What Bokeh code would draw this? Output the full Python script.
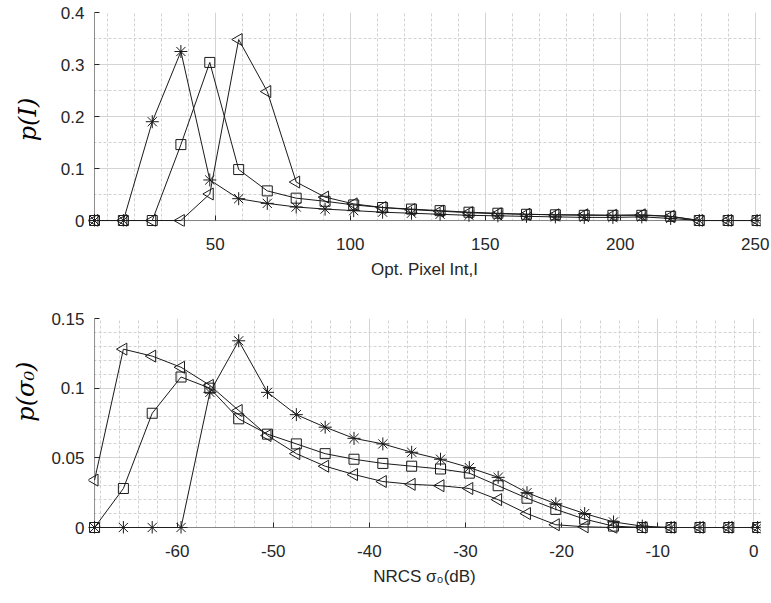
import math
from bokeh.plotting import figure
from bokeh.models import Range1d, FixedTicker, NumeralTickFormatter, BoxAnnotation
from bokeh.layouts import column
from bokeh.embed import file_html
from bokeh.resources import INLINE

# ---------------- data ----------------
# top panel: optical pixel intensity histogram (bin centres)
top_x = [5.3, 16.0, 26.7, 37.3, 48.0, 58.7, 69.3, 80.0, 90.7, 101.3, 112.0, 122.7,
         133.3, 144.0, 154.7, 165.3, 176.0, 186.7, 197.3, 208.0, 218.7, 229.3, 240.0, 250.7]
top_star = [0, 0, 0.190, 0.325, 0.078, 0.042, 0.033, 0.026, 0.022, 0.019, 0.016, 0.014,
            0.012, 0.010, 0.009, 0.008, 0.007, 0.006, 0.006, 0.007, 0.004, 0, 0, 0]
top_square = [0, 0, 0, 0.146, 0.304, 0.098, 0.057, 0.043, 0.037, 0.030, 0.025, 0.022,
              0.019, 0.016, 0.014, 0.012, 0.011, 0.010, 0.010, 0.010, 0.008, 0, 0, 0]
top_tri = [0, 0, 0, 0, 0.051, 0.348, 0.248, 0.074, 0.045, 0.032, 0.025, 0.021,
           0.018, 0.015, 0.013, 0.012, 0.011, 0.011, 0.010, 0.011, 0.008, 0, 0, 0]
top_xticks = [50, 100, 150, 200, 250]
top_xminor = [10, 20, 30, 40, 60, 70, 80, 90, 110, 120, 130, 140, 160, 170, 180, 190,
              210, 220, 230, 240]
top_yticks = [0, 0.1, 0.2, 0.3, 0.4]
top_yminor = [0.05, 0.15, 0.25, 0.35]

# bottom panel: NRCS histogram (dB)
bot_x = [-68.6, -65.6, -62.6, -59.6, -56.6, -53.6, -50.6, -47.6, -44.6, -41.6, -38.6, -35.6,
         -32.6, -29.6, -26.6, -23.6, -20.6, -17.6, -14.6, -11.6, -8.6, -5.6, -2.6, 0.4]
bot_star = [0, 0, 0, 0, 0.097, 0.134, 0.097, 0.081, 0.072, 0.064, 0.060, 0.054,
            0.049, 0.043, 0.036, 0.025, 0.017, 0.010, 0.004, 0.001, 0, 0, 0, 0]
bot_square = [0, 0.028, 0.082, 0.108, 0.100, 0.078, 0.067, 0.060, 0.053, 0.049, 0.046, 0.044,
              0.042, 0.039, 0.030, 0.021, 0.013, 0.006, 0.001, 0, 0, 0, 0, 0]
bot_tri = [0.034, 0.128, 0.123, 0.115, 0.102, 0.084, 0.066, 0.053, 0.044, 0.038, 0.033, 0.031,
           0.030, 0.028, 0.020, 0.010, 0.002, 0.0005, 0, 0, 0, 0, 0, 0]
bot_xticks = [-60, -50, -40, -30, -20, -10, 0]
bot_xminor = [-68, -66, -64, -62, -58, -56, -54, -52, -48, -46, -44, -42, -38, -36, -34, -32,
              -28, -26, -24, -22, -18, -16, -14, -12, -8, -6, -4, -2]
bot_yticks = [0, 0.05, 0.1, 0.15]
bot_yminor = [0.01, 0.02, 0.03, 0.04, 0.06, 0.07, 0.08, 0.09, 0.11, 0.12, 0.13, 0.14]

TXT = "#262626"
FONT = "Liberation Sans"
GRID = "#d4d4d4"
MINOR = "#d2d2d2"
PAD = 6  # px between frame edge and the axes (so edge markers are not clipped)


def style(p, xticks, xminor, yticks, yminor, x0, xlabel, ylabel, ylab_standoff, xlab_standoff):
    p.outline_line_color = None
    p.background_fill_color = "white"
    for ax in (p.xaxis[0], p.yaxis[0]):
        ax.axis_line_color = None
        ax.major_tick_line_color = TXT
        ax.major_tick_in = PAD + 5
        ax.major_tick_out = -PAD
        ax.minor_tick_line_color = None
        ax.minor_tick_in = 0
        ax.minor_tick_out = -PAD
        ax.major_label_text_font = FONT
        ax.major_label_text_font_size = "17px"
        ax.major_label_text_color = TXT
    xa = p.xaxis[0]
    ya = p.yaxis[0]
    xa.ticker = FixedTicker(ticks=xticks, minor_ticks=xminor)
    ya.ticker = FixedTicker(ticks=yticks, minor_ticks=yminor)
    ya.formatter = NumeralTickFormatter(format="0.[00]")
    xa.formatter = NumeralTickFormatter(format="0")
    xa.major_label_standoff = 17
    ya.major_label_standoff = 10
    xa.axis_label = xlabel
    xa.axis_label_text_font = FONT
    xa.axis_label_text_font_style = "normal"
    xa.axis_label_text_font_size = "17px"
    xa.axis_label_text_color = TXT
    xa.axis_label_standoff = xlab_standoff
    ya.axis_label = ylabel
    ya.axis_label_text_font = "DejaVu Serif"
    ya.axis_label_text_font_style = "italic"
    ya.axis_label_text_font_size = "24px"
    ya.axis_label_text_color = "black"
    ya.axis_label_standoff = ylab_standoff
    for g in (p.xgrid[0], p.ygrid[0]):
        g.grid_line_color = GRID
        g.grid_line_width = 1
        g.minor_grid_line_color = MINOR
        g.minor_grid_line_dash = "3 2"
        g.minor_grid_line_width = 1
    # hide grid stubs in the small padding outside the axes
    p.add_layout(BoxAnnotation(top=0, fill_color="white", fill_alpha=1,
                               line_color=None, level="underlay"), "center")
    p.add_layout(BoxAnnotation(right=x0, fill_color="white", fill_alpha=1,
                               line_color=None, level="underlay"), "center")
    # axis lines at the data origin (x = first bin, y = 0)
    p.add_layout(BoxAnnotation(left=x0, right=x0, bottom=0, fill_alpha=0,
                               line_color=TXT, line_width=1, level="guide"), "center")
    p.add_layout(BoxAnnotation(left=x0, bottom=0, top=0, fill_alpha=0,
                               line_color=TXT, line_width=1, level="guide"), "center")


def series(p, x, y, marker, size, angle=0.0):
    p.line(x, y, line_color="#1a1a1a", line_width=1)
    p.scatter(x, y, marker=marker, size=size, angle=angle, line_color="#1a1a1a",
              line_width=1, fill_color=None)


p1 = figure(width=771, height=295, x_range=Range1d(3.08, 251.97), y_range=Range1d(-0.0115, 0.4),
            output_backend="svg", toolbar_location=None,
            min_border_left=88, min_border_right=11, min_border_top=12, min_border_bottom=69)
style(p1, top_xticks, top_xminor, top_yticks, top_yminor, top_x[0],
      "Opt. Pixel Int,I", "p(I)", 16, 7)
series(p1, top_x, top_star, "asterisk", 13)
series(p1, top_x, top_square, "square", 10)
series(p1, top_x, top_tri, "triangle", 12, math.pi / 2)

# the lower y label sits above the panel centre in the reference: lead with no-break spaces
NB = "\u00a0" * 9
p2 = figure(width=771, height=308, x_range=Range1d(-69.23, 0.70), y_range=Range1d(-0.0043, 0.15),
            output_backend="svg", toolbar_location=None,
            min_border_left=88, min_border_right=11, min_border_top=23, min_border_bottom=70)
style(p2, bot_xticks, bot_xminor, bot_yticks, bot_yminor, bot_x[0],
      "NRCS σ₀(dB)", NB + "p(σ₀)", 8, 7)
series(p2, bot_x, bot_star, "asterisk", 13)
series(p2, bot_x, bot_square, "square", 10)
series(p2, bot_x, bot_tri, "triangle", 12, math.pi / 2)

layout = column(p1, p2, spacing=0)
open("out.html", "w").write(file_html(layout, INLINE))
